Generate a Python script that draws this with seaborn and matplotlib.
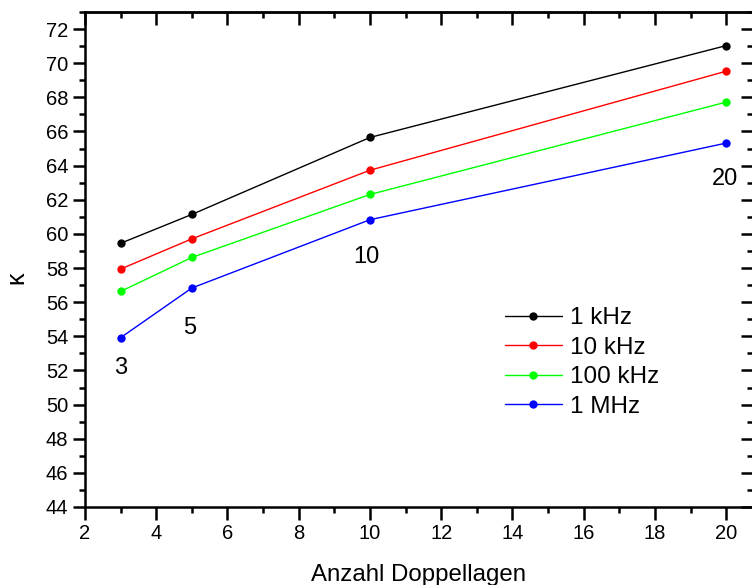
import matplotlib
matplotlib.use("Agg")
import matplotlib.pyplot as plt
from matplotlib.ticker import MultipleLocator
import pandas as pd
import seaborn as sns

# Measured permittivity vs. number of double layers
layers = [3, 5, 10, 20]
freq_labels = ["1 kHz", "10 kHz", "100 kHz", "1 MHz"]
kappa_1khz = [59.45, 61.14, 65.65, 71.03]
kappa_10khz = [57.94, 59.71, 63.73, 69.53]
kappa_100khz = [56.63, 58.62, 62.31, 67.72]
kappa_1mhz = [53.92, 56.83, 60.83, 65.32]
colors = ["#000000", "#ff0000", "#00ff00", "#0000ff"]

# Layer-count annotations (text, x, y)
annot_text = ["3", "5", "10", "20"]
annot_x = [3.0, 4.95, 9.9, 19.98]
annot_y = [52.15, 54.5, 58.65, 63.2]

series = [kappa_1khz, kappa_10khz, kappa_100khz, kappa_1mhz]
df = pd.DataFrame({
    "layers": [n for _ in freq_labels for n in layers],
    "kappa": [v for s in series for v in s],
    "freq": [f for f in freq_labels for _ in layers],
})

sns.set_style("ticks")
plt.rcParams["font.family"] = ["Liberation Sans", "DejaVu Sans"]
plt.rcParams["text.color"] = "black"
plt.rcParams["axes.labelcolor"] = "black"
plt.rcParams["xtick.color"] = "black"
plt.rcParams["ytick.color"] = "black"

fig = plt.figure(figsize=(7.52, 5.85), dpi=100)
ax = fig.add_axes([85 / 752, 1 - 507 / 585, 667.5 / 752, (507 - 12) / 585])

sns.lineplot(data=df, x="layers", y="kappa", hue="freq", hue_order=freq_labels,
             palette=colors, marker="o", markersize=6, markeredgewidth=0,
             linewidth=1.0, ax=ax, legend=True)

for t, x, y in zip(annot_text, annot_x, annot_y):
    ax.text(x, y, t, fontsize=17, ha="center", va="center", color="black")

ax.set_xlim(2, 20.74)
ax.set_ylim(44, 73)

for side in ["top", "right", "left", "bottom"]:
    ax.spines[side].set_visible(True)
    ax.spines[side].set_linewidth(1.8)
    ax.spines[side].set_color("black")

def set_locators(axis):
    axis.set_major_locator(MultipleLocator(2))
    axis.set_minor_locator(MultipleLocator(1))

set_locators(ax.xaxis)
set_locators(ax.yaxis)
ax.tick_params(axis="both", which="major", direction="out", length=9, width=1.8,
               labelsize=14.5, pad=3)
ax.tick_params(axis="both", which="minor", direction="out", length=4.5, width=1.8)

# inward ticks on the top and right edges
top = ax.secondary_xaxis("top")
set_locators(top.xaxis)
top.tick_params(which="major", direction="in", length=9, width=1.8, labeltop=False)
top.tick_params(which="minor", direction="in", length=4.5, width=1.8)
top.spines["top"].set_linewidth(1.8)
right = ax.secondary_yaxis("right")
set_locators(right.yaxis)
right.tick_params(which="major", direction="in", length=9, width=1.8, labelright=False)
right.tick_params(which="minor", direction="in", length=4.5, width=1.8)
right.spines["right"].set_linewidth(1.8)

ax.set_xlabel("Anzahl Doppellagen", fontsize=17.3, labelpad=15)
ax.set_ylabel("κ", fontsize=18)
ax.yaxis.set_label_coords(-0.085, 0.463)

handles, labels = ax.get_legend_handles_labels()
ax.legend(handles, labels, loc="center left", bbox_to_anchor=(0.614, 0.292),
          frameon=False, fontsize=17.5, handlelength=2.35, handletextpad=0.33,
          labelspacing=0.31, borderaxespad=0)

fig.savefig("out.png", dpi=100)
